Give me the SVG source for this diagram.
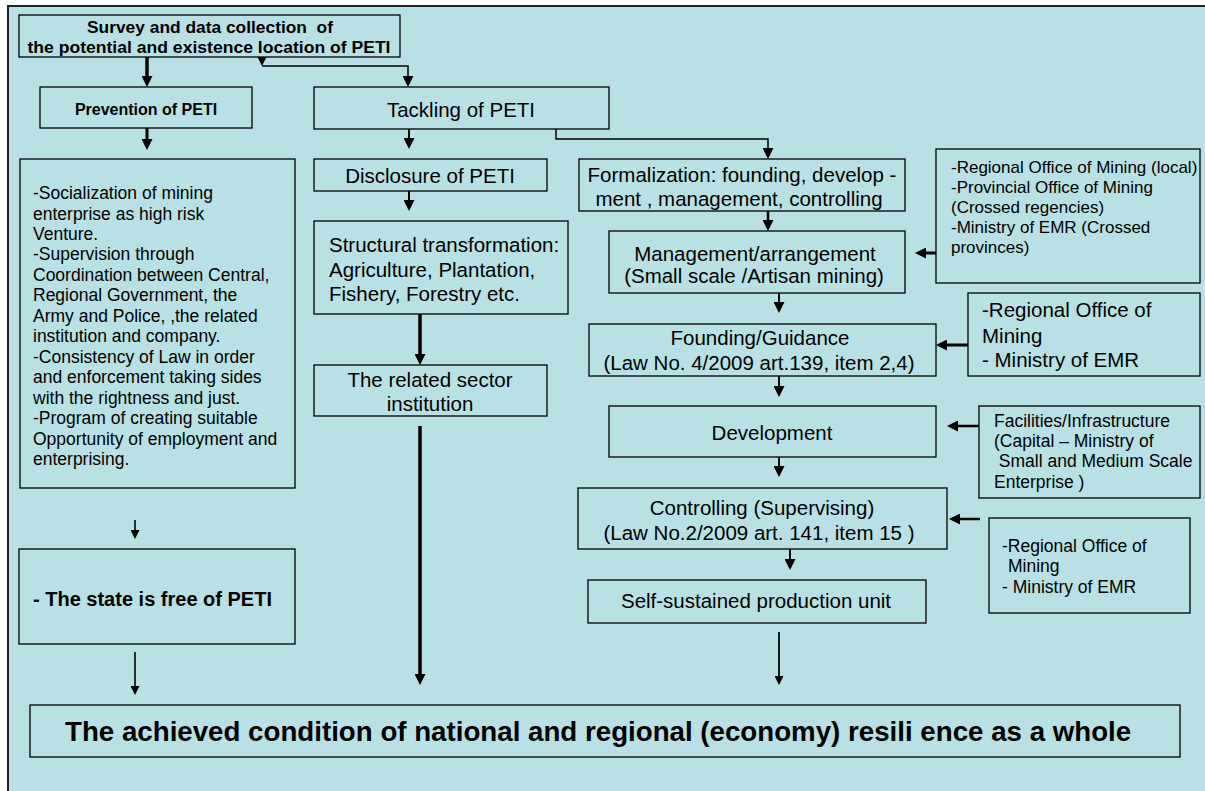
<svg xmlns="http://www.w3.org/2000/svg" width="1205" height="791" viewBox="0 0 1205 791">
<style>
.box{fill:#b9e0e4;stroke:#000;stroke-width:1.3}
text{font-family:"Liberation Sans",Arial,Helvetica,sans-serif;fill:#000}
.r20{font-size:20.5px}
.r17{font-size:17.5px}
.r17s{font-size:17px}
.b16{font-size:16px;font-weight:bold}
.b20{font-size:20px;font-weight:bold}
.b27{font-size:27.7px;font-weight:bold}
.c{text-anchor:middle}
.ln{fill:none;stroke:#000}
</style>
<defs>
<marker id="ah" viewBox="0 0 11 11" refX="2" refY="5.5" markerWidth="11" markerHeight="11" markerUnits="userSpaceOnUse" orient="auto"><path d="M0,0 L11,5.5 L0,11 z" fill="#000"/></marker>
<marker id="ahs" viewBox="0 0 9 9" refX="2" refY="4.5" markerWidth="9" markerHeight="9" markerUnits="userSpaceOnUse" orient="auto"><path d="M0,0 L9,4.5 L0,9 z" fill="#000"/></marker>
<marker id="ahd" viewBox="0 0 9 9" refX="9" refY="4.5" markerWidth="9" markerHeight="9" markerUnits="userSpaceOnUse" orient="90"><path d="M0,0 L9,4.5 L0,9 z" fill="#000"/></marker>
</defs>

<rect x="8" y="6" width="1205" height="795" fill="#b9e0e4" stroke="#222" stroke-width="2"/>

<g id="connectors">
<path class="ln" d="M147,57 V78" stroke-width="3.5" marker-end="url(#ah)"/>
<path class="ln" d="M262,66 H408 V78" stroke-width="1.5" marker-start="url(#ahd)" marker-end="url(#ah)"/>
<path class="ln" d="M147,128 V141" stroke-width="3" marker-end="url(#ah)"/>
<path class="ln" d="M135,520 V532" stroke-width="1.6" marker-end="url(#ahs)"/>
<path class="ln" d="M135,652 V688" stroke-width="1.6" marker-end="url(#ahs)"/>
<path class="ln" d="M409,129 V140" stroke-width="2" marker-end="url(#ah)"/>
<path class="ln" d="M556,129 V139 H768 V150" stroke-width="1.5" marker-end="url(#ah)"/>
<path class="ln" d="M409,191 V202" stroke-width="2" marker-end="url(#ah)"/>
<path class="ln" d="M420,314 V356" stroke-width="3.5" marker-end="url(#ah)"/>
<path class="ln" d="M420,426 V676" stroke-width="3.5" marker-end="url(#ah)"/>
<path class="ln" d="M768,196 V222" stroke-width="2.5" marker-end="url(#ah)"/>
<path class="ln" d="M936,253 H924" stroke-width="3" marker-end="url(#ah)"/>
<path class="ln" d="M779,293 V304" stroke-width="2" marker-end="url(#ah)"/>
<path class="ln" d="M980,345 H945" stroke-width="3" marker-end="url(#ah)"/>
<path class="ln" d="M779,376 V388" stroke-width="2" marker-end="url(#ah)"/>
<path class="ln" d="M980,426 H956" stroke-width="2.5" marker-end="url(#ah)"/>
<path class="ln" d="M779,457 V468" stroke-width="2" marker-end="url(#ah)"/>
<path class="ln" d="M980,519 H958" stroke-width="2.5" marker-end="url(#ah)"/>
<path class="ln" d="M790,549 V561" stroke-width="2" marker-end="url(#ah)"/>
<path class="ln" d="M779,632 V678" stroke-width="1.8" marker-end="url(#ahs)"/>
</g>

<g id="survey">
<rect class="box" x="19" y="15" width="381" height="42"/>
<text class="b16 c" x="210" y="33" textLength="246" lengthAdjust="spacingAndGlyphs" xml:space="preserve">Survey and data collection  of</text>
<text class="b16 c" x="209" y="53" textLength="363" lengthAdjust="spacingAndGlyphs">the potential and existence location of PETI</text>
</g>

<g id="prevention">
<rect class="box" x="40" y="87" width="212" height="41"/>
<text class="b16 c" x="146" y="115">Prevention of PETI</text>
</g>

<g id="prevention-measures">
<rect class="box" x="20" y="159" width="275" height="329"/>
<text class="r17" x="33" y="199">-Socialization of mining</text>
<text class="r17" x="33" y="219.5">enterprise as high risk</text>
<text class="r17" x="33" y="240">Venture.</text>
<text class="r17" x="33" y="260.4">-Supervision through</text>
<text class="r17" x="33" y="280.8">Coordination between Central,</text>
<text class="r17" x="33" y="301.3">Regional Government, the</text>
<text class="r17" x="33" y="321.8">Army and Police, ,the related</text>
<text class="r17" x="33" y="342.2">institution and company.</text>
<text class="r17" x="33" y="362.7">-Consistency of Law in order</text>
<text class="r17" x="33" y="383.1">and enforcement taking sides</text>
<text class="r17" x="33" y="403.6">with the rightness and just.</text>
<text class="r17" x="33" y="424">-Program of creating suitable</text>
<text class="r17" x="33" y="444.5">Opportunity of employment and</text>
<text class="r17" x="33" y="465">enterprising.</text>
</g>

<g id="state-free">
<rect class="box" x="19" y="549" width="276" height="95"/>
<text class="b20" x="33" y="606">- The state is free of PETI</text>
</g>

<g id="tackling">
<rect class="box" x="314" y="87" width="295" height="42"/>
<text class="r20 c" x="461" y="117">Tackling of PETI</text>
</g>

<g id="disclosure">
<rect class="box" x="314" y="159" width="233" height="32"/>
<text class="r20 c" x="430" y="183">Disclosure of PETI</text>
</g>

<g id="structural">
<rect class="box" x="314" y="221" width="254" height="93"/>
<text class="r20" x="329" y="252">Structural transformation:</text>
<text class="r20" x="329" y="277">Agriculture, Plantation,</text>
<text class="r20" x="329" y="301">Fishery, Forestry etc.</text>
</g>

<g id="related-sector">
<rect class="box" x="314" y="365" width="233" height="51"/>
<text class="r20 c" x="430" y="387">The related sector</text>
<text class="r20 c" x="430" y="411">institution</text>
</g>

<g id="formalization">
<rect class="box" x="579" y="159" width="326" height="52"/>
<text class="r20 c" x="742" y="182">Formalization: founding, develop -</text>
<text class="r20 c" x="739" y="206">ment , management, controlling</text>
</g>

<g id="management">
<rect class="box" x="609" y="231" width="296" height="62"/>
<text class="r20 c" x="755" y="261">Management/arrangement</text>
<text class="r20 c" x="754" y="283">(Small scale /Artisan mining)</text>
</g>

<g id="offices-1">
<rect class="box" x="936" y="149" width="264" height="134"/>
<text class="r17s" x="951" y="173">-Regional Office of Mining (local)</text>
<text class="r17s" x="951" y="193">-Provincial Office of Mining</text>
<text class="r17s" x="951" y="213">(Crossed regencies)</text>
<text class="r17s" x="951" y="233">-Ministry of EMR (Crossed</text>
<text class="r17s" x="951" y="253">provinces)</text>
</g>

<g id="founding">
<rect class="box" x="589" y="324" width="347" height="52"/>
<text class="r20 c" x="760" y="345">Founding/Guidance</text>
<text class="r20 c" x="759" y="370">(Law No. 4/2009 art.139, item 2,4)</text>
</g>

<g id="offices-2">
<rect class="box" x="968" y="293" width="232" height="83"/>
<text class="r20" x="982" y="317">-Regional Office of</text>
<text class="r20" x="982" y="343">Mining</text>
<text class="r20" x="982" y="367">- Ministry of EMR</text>
</g>

<g id="development">
<rect class="box" x="609" y="406" width="327" height="51"/>
<text class="r20 c" x="772" y="440">Development</text>
</g>

<g id="facilities">
<rect class="box" x="979" y="406" width="221" height="92"/>
<text class="r17" x="994" y="427">Facilities/Infrastructure</text>
<text class="r17" x="994" y="447">(Capital – Ministry of</text>
<text class="r17" x="994" y="467" xml:space="preserve"> Small and Medium Scale</text>
<text class="r17" x="994" y="488">Enterprise )</text>
</g>

<g id="controlling">
<rect class="box" x="578" y="488" width="369" height="61"/>
<text class="r20 c" x="762" y="515">Controlling (Supervising)</text>
<text class="r20 c" x="759" y="540">(Law No.2/2009 art. 141, item 15 )</text>
</g>

<g id="offices-3">
<rect class="box" x="989" y="518" width="201" height="95"/>
<text class="r17" x="1002" y="552">-Regional Office of</text>
<text class="r17" x="1008" y="572">Mining</text>
<text class="r17" x="1002" y="593">- Ministry of EMR</text>
</g>

<g id="self-sustained">
<rect class="box" x="588" y="580" width="338" height="43"/>
<text class="r20 c" x="756" y="608">Self-sustained production unit</text>
</g>

<g id="resilience">
<rect class="box" x="30" y="705" width="1150" height="52"/>
<text class="b27" x="65" y="741">The achieved condition of national and regional (economy) resili ence as a whole</text>
</g>
</svg>
